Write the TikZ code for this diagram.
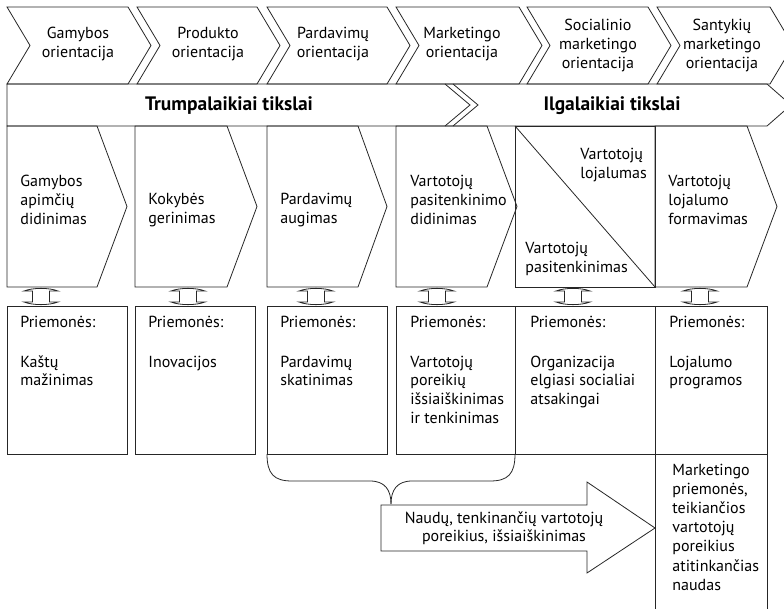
\documentclass[tikz,border=0pt]{standalone}
\usepackage{fontspec}
\setmainfont{PT Sans}
\newcommand\TL[1]{\begin{tabular}[t]{@{}l@{}}#1\end{tabular}}
\newcommand\TC[1]{\begin{tabular}[t]{@{}c@{}}#1\end{tabular}}
\begin{document}
\begin{tikzpicture}[x=0.75pt,y=-0.75pt,line width=0.6pt,line join=miter,
  txt/.style={inner sep=0pt,font=\fontsize{12pt}{14.2pt}\selectfont},
  lt/.style={txt,anchor=base west},
  ct/.style={txt,anchor=base},
  bt/.style={inner sep=0pt,font=\fontsize{14.6pt}{17pt}\selectfont\bfseries,anchor=base},
  shp/.style={draw=black!85}]
\useasboundingbox (0,0) rectangle (784,609);
\clip (0,0) rectangle (784,609);
% top chevrons
\foreach \L/\R in {7/128,137/257,267/387,396/519,527/648,657/770}
  \draw[shp] (\L,7) -- (\R,7) -- (\R+23,45.5) -- (\R,84) -- (\L,84) -- (\L+23,45.5) -- cycle;
% band
\draw[shp] (7,84) -- (767,84) -- (791,105) -- (767,126) -- (7,126) -- cycle;
\draw[shp] (445,84) -- (470,105) -- (445,126);
\draw[shp] (453,84) -- (478,105) -- (453,126);
% middle boxes
\foreach \L/\R/\T in {7/97/127,135/227/257,267/358/387,396/487/517,655/747/777}
  \draw[shp] (\L,126) -- (\R,126) -- (\T,206.5) -- (\R,287) -- (\L,287) -- cycle;
\draw[shp] (515,126) rectangle (655,287);
\draw[shp] (515,126) -- (655,287);
% connectors
\foreach \c in {41,188,316,437,573,700}
  \draw[shp] (\c-8.5,291) -- (\c-17,291) .. controls (\c-8,287.5) and (\c+8,287.5) .. (\c+17,291)
    -- (\c+8.5,291) -- (\c+8.5,302) -- (\c+17,302) .. controls (\c+8,305.5) and (\c-8,305.5) .. (\c-17,302)
    -- (\c-8.5,302) -- cycle;
% lower boxes
\foreach \L/\R in {7/127,135/255,267/387,396/515,515/655,655/767}
  \draw[shp] (\L,306) rectangle (\R,454);
\draw[shp] (655,454) -- (655,620);
\draw[shp] (767,454) -- (767,620);
% brace
\draw[shp] (267,454) .. controls (267,474) and (274,481) .. (292,481) -- (370,481)
  .. controls (385,481) and (391,490) .. (391,504);
\draw[shp] (515,454) .. controls (515,474) and (508,481) .. (490,481) -- (412,481)
  .. controls (397,481) and (391,490) .. (391,504);
% big arrow
\draw[shp] (381,505) -- (587,505) -- (587,482) -- (655,528) -- (587,573) -- (587,551) -- (381,551) -- cycle;
% texts top
\node[ct] (c1) at (78,39) {\TC{Gamybos\\orientacija}};
\node[ct] (c2) at (208,39) {\TC{Produkto\\orientacija}};
\node[ct] (c3) at (333,39) {\TC{Pardavimų\\orientacija}};
\node[ct] (c4) at (462,39) {\TC{Marketingo\\orientacija}};
\node[ct] (c5) at (598,31) {\TC{Socialinio\\marketingo\\orientacija}};
\node[ct] (c6) at (722,31) {\TC{Santykių\\marketingo\\orientacija}};
\node[bt] (b1) at (229,111) {Trumpalaikiai tikslai};
\node[bt] (b2) at (612,111) {Ilgalaikiai tikslai};
% middle texts
\node[lt] (m1) at (20,186.5) {\TL{Gamybos\\apimčių\\didinimas}};
\node[lt] (m2) at (148,204.5) {\TL{Kokybės\\gerinimas}};
\node[lt] (m3) at (280,204.5) {\TL{Pardavimų\\augimas}};
\node[lt] (m4) at (410,186.5) {\TL{Vartotojų\\pasitenkinimo\\didinimas}};
\node[lt] (m5a) at (580,159.5) {\TL{Vartotojų\\lojalumas}};
\node[lt] (m5b) at (525,253.5) {\TL{Vartotojų\\pasitenkinimas}};
\node[lt] (m6) at (668,186.5) {\TL{Vartotojų\\lojalumo\\formavimas}};
% lower texts
\foreach \x/\n in {20/1,148/2,280/3,410/4,530/5,669/6}
  \node[lt] (p\n) at (\x,327) {Priemonės:};
\node[lt] (q1) at (20,367) {\TL{Kaštų\\mažinimas}};
\node[lt] (q2) at (148,367) {\TL{Inovacijos}};
\node[lt] (q3) at (280,367) {\TL{Pardavimų\\skatinimas}};
\node[lt] (q4) at (410,367) {\TL{Vartotojų\\poreikių\\išsiaiškinimas\\ir tenkinimas}};
\node[lt] (q5) at (530,367) {\TL{Organizacija\\elgiasi socialiai\\atsakingai}};
\node[lt] (q6) at (669,367) {\TL{Lojalumo\\programos}};
\node[ct] (ar) at (504,523) {\TC{Naudų, tenkinančių vartotojų\\poreikius, išsiaiškinimas}};
\node[lt,font=\fontsize{12pt}{14.4pt}\selectfont] (br) at (672,475) {\TL{Marketingo\\priemonės,\\teikiančios\\vartotojų\\poreikius\\atitinkančias\\naudas}};
\end{tikzpicture}
\end{document}
